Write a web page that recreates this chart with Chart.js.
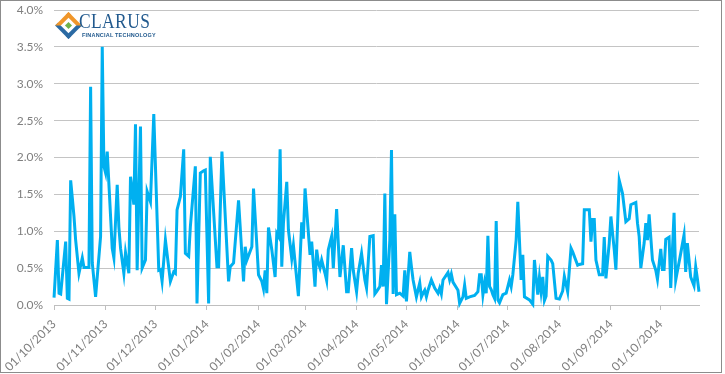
<!DOCTYPE html>
<html>
<head>
<meta charset="utf-8">
<script src="https://cdn.jsdelivr.net/npm/chart.js@4.4.1/dist/chart.umd.min.js"></script>
<style>
  html, body { margin: 0; padding: 0; background: #fff; }
  #wrap { position: relative; width: 725px; height: 374px; }
  .logo { position: absolute; left: 56px; top: 12px; width: 100px; height: 28px; }
  .logo .mark {
    position: absolute; left: 3px; top: 4px; width: 11px; height: 11px;
    transform: rotate(45deg); background: #fff;
    border-top: 4px solid #f0962a; border-left: 4px solid #f0962a;
    border-right: 4px solid #2b6aa3; border-bottom: 4px solid #2b6aa3;
  }
  .logo .mark i {
    position: absolute; left: 3px; top: 3px; width: 5px; height: 5px;
    background: #6fb24a;
  }
  .logo .name {
    position: absolute; left: 23px; top: -3px;
    font-family: "Liberation Serif", "DejaVu Serif", serif; font-size: 21px;
    color: #225a8e; transform: scaleX(0.83); transform-origin: left top;
    letter-spacing: 0.5px;
  }
  .logo .sub {
    position: absolute; left: 26px; top: 20px; white-space: nowrap;
    font-family: "Liberation Sans", Arial, sans-serif; font-size: 5.5px; font-weight: bold;
    color: #225a8e; letter-spacing: 0.2px;
  }
</style>
</head>
<body>
<div id="wrap">
  <canvas id="chart" width="725" height="374"></canvas>
  <div class="logo">
    <div class="mark"><i></i></div>
    <div class="name">CLARUS</div>
    <div class="sub">FINANCIAL TECHNOLOGY</div>
  </div>
</div>
<script>
// days since 01/10/2013
const dayOffsets = [
  0, 2, 3, 4, 7, 8, 9, 10, 11, 12, 13, 15, 17, 18, 21, 22, 23, 25, 28, 29,
  30, 31, 32, 35, 36, 38, 39, 40, 42, 43, 45, 46, 47, 48, 49, 50, 52, 53, 55, 56,
  58, 60, 63, 64, 65, 67, 70, 72, 73, 74, 76, 78, 79, 81, 82, 85, 86, 88, 90, 91,
  93, 94, 98, 99, 101, 105, 106, 108, 111, 114, 115, 116, 119, 120, 122, 123, 125, 126, 127, 128,
  129, 131, 133, 134, 135, 136, 137, 138, 140, 141, 143, 144, 147, 149, 150, 151, 154, 155, 157, 158,
  159, 160, 161, 163, 164, 165, 167, 168, 170, 172, 174, 176, 177, 179, 180, 182, 183, 185, 187, 188,
  190, 192, 193, 194, 196, 197, 198, 199, 200, 202, 203, 204, 205, 206, 208, 210, 211, 212, 214, 215,
  216, 218, 220, 221, 222, 223, 224, 225, 227, 229, 231, 232, 233, 234, 237, 238, 239, 240, 243, 244,
  246, 247, 248, 250, 253, 255, 256, 257, 258, 259, 260, 261, 262, 263, 264, 265, 266, 267, 268, 270,
  272, 273, 274, 275, 276, 278, 279, 281, 282, 283, 286, 288, 289, 291, 292, 293, 294, 295, 296, 297,
  299, 300, 302, 304, 306, 307, 309, 311, 312, 315, 316, 318, 319, 321, 322, 323, 324, 325, 326, 328,
  330, 331, 332, 334, 335, 337, 338, 340, 342, 344, 346, 347, 350, 351, 352, 353, 355, 356, 357, 358,
  360, 362, 363, 365, 366, 367, 368, 370, 371, 373, 374, 377, 379, 380, 381, 383, 385, 386, 387, 388
];

// percent
const values = [
  0.10, 0.88, 0.16, 0.15, 0.86, 0.09, 0.08, 1.69, 1.45, 1.20, 0.88, 0.43, 0.64, 0.51, 0.51, 2.96, 0.57, 0.11, 0.93, 3.50,
  1.88, 1.79, 2.08, 0.77, 0.64, 1.63, 1.06, 0.77, 0.43, 0.71, 0.43, 1.74, 1.56, 1.36, 2.45, 0.47, 2.42, 0.50, 0.61, 1.54,
  1.40, 2.59, 0.47, 0.48, 0.32, 0.88, 0.32, 0.45, 0.43, 1.29, 1.47, 2.11, 0.70, 0.66, 1.06, 1.88, 0.02, 1.79, 1.82, 1.83,
  0.02, 2.01, 0.52, 0.52, 2.08, 0.32, 0.52, 0.57, 1.42, 0.32, 0.79, 0.61, 0.79, 1.58, 0.81, 0.41, 0.32, 0.22, 0.47, 0.16,
  1.05, 0.75, 0.38, 0.97, 0.93, 2.11, 0.52, 1.11, 1.67, 1.02, 0.63, 0.81, 0.12, 1.12, 0.90, 1.58, 0.68, 0.86, 0.25, 0.75,
  0.57, 0.50, 0.61, 0.43, 0.33, 0.75, 0.93, 0.50, 1.30, 0.38, 0.81, 0.18, 0.18, 0.77, 0.47, 0.18, 0.43, 0.70, 0.34, 0.23,
  0.93, 0.94, 0.15, 0.18, 0.25, 0.54, 0.25, 1.51, 0.01, 0.88, 2.10, 0.15, 1.23, 0.14, 0.16, 0.12, 0.47, 0.05, 0.72, 0.52,
  0.34, 0.11, 0.30, 0.11, 0.16, 0.20, 0.11, 0.20, 0.34, 0.23, 0.16, 0.23, 0.15, 0.34, 0.44, 0.34, 0.42, 0.31, 0.20, 0.02,
  0.11, 0.27, 0.09, 0.11, 0.13, 0.18, 0.41, 0.41, 0.14, 0.30, 0.16, 0.94, 0.25, 0.21, 0.14, 0.09, 1.14, 0.07, 0.03, 0.14,
  0.16, 0.25, 0.34, 0.25, 0.41, 0.88, 1.40, 0.34, 0.68, 0.11, 0.07, 0.01, 0.61, 0.14, 0.38, 0.18, 0.38, 0.06, 0.12, 0.66,
  0.61, 0.56, 0.09, 0.08, 0.19, 0.39, 0.18, 0.77, 0.72, 0.54, 0.55, 0.56, 1.29, 1.29, 1.29, 0.86, 1.16, 1.16, 0.61, 0.41,
  0.41, 0.92, 0.36, 0.84, 1.20, 0.75, 0.48, 1.69, 1.51, 1.13, 1.17, 1.36, 1.39, 1.11, 0.93, 0.50, 0.84, 1.11, 0.88, 1.23,
  0.61, 0.47, 0.35, 0.76, 0.48, 0.48, 0.89, 0.92, 0.23, 1.25, 0.34, 0.70, 0.95, 0.45, 0.84, 0.38, 0.26, 0.52, 0.36, 0.18
];

const monthTicks = [0, 31, 61, 92, 123, 151, 182, 212, 243, 273, 304, 335, 365];
const monthLabels = [
  "01/10/2013", "01/11/2013", "01/12/2013", "01/01/2014", "01/02/2014", "01/03/2014", "01/04/2014",
  "01/05/2014", "01/06/2014", "01/07/2014", "01/08/2014", "01/09/2014", "01/10/2014"
];

const yMin = 0;
const yMax = 4;
const yStep = 0.5;

const frame = {
  id: "frame",
  afterDraw(chart) {
    const ctx = chart.ctx;
    ctx.save();
    ctx.strokeStyle = "#8c8c8c";
    ctx.lineWidth = 1;
    ctx.strokeRect(0.5, 0.5, 721, 372);
    ctx.restore();
  }
};

new Chart(document.getElementById("chart"), {
  type: "line",
  data: {
    datasets: [{
      data: dayOffsets.map((d, i) => ({ x: d, y: values[i] })),
      borderColor: "#00b0f0",
      borderWidth: 3,
      pointRadius: 0,
      tension: 0,
      fill: false,
      clip: false
    }]
  },
  options: {
    responsive: false,
    animation: false,
    layout: { padding: { top: 10, right: 26, bottom: 0, left: 0 } },
    plugins: { legend: { display: false }, tooltip: { enabled: false } },
    scales: {
      x: {
        type: "linear",
        min: monthTicks[0],
        max: dayOffsets[dayOffsets.length - 1],
        afterBuildTicks(scale) {
          scale.ticks = monthTicks.map((v) => ({ value: v }));
        },
        afterFit(scale) {
          scale.height = 374 - 305;
        },
        grid: {
          drawOnChartArea: false,
          drawTicks: true,
          tickLength: 5,
          color: "#bfbfbf"
        },
        border: { color: "#bfbfbf" },
        ticks: {
          autoSkip: false,
          maxRotation: 45,
          minRotation: 45,
          padding: 7,
          color: "#7f7f7f",
          font: { family: "Lato", size: 12 },
          callback(value) {
            const i = monthTicks.indexOf(value);
            return i >= 0 ? monthLabels[i] : "";
          }
        }
      },
      y: {
        min: yMin,
        max: yMax,
        afterFit(scale) {
          scale.width = 54;
          scale.paddingTop = 0;
          scale.paddingBottom = 0;
        },
        grid: { color: "#c4c4c4", drawTicks: false },
        border: { display: false },
        ticks: {
          stepSize: yStep,
          padding: 11,
          color: "#7f7f7f",
          font: { family: "Lato", size: 12 },
          callback(value) {
            return value.toFixed(1) + "%";
          }
        }
      }
    }
  },
  plugins: [frame]
});
</script>
</body>
</html>
